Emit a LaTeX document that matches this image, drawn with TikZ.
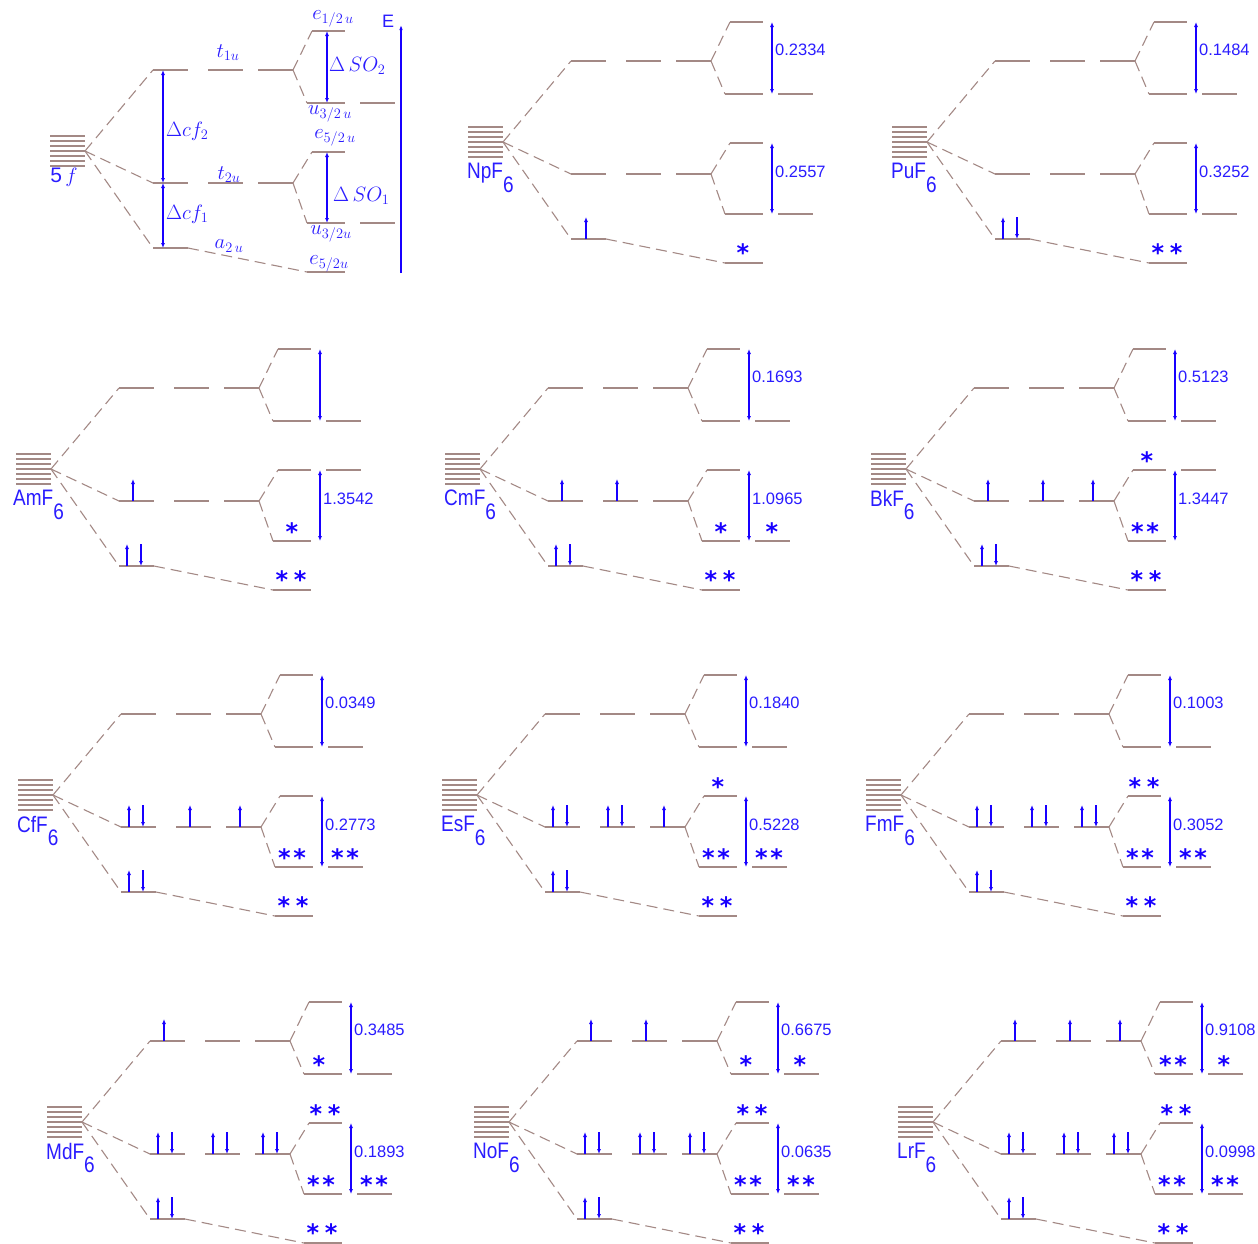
\documentclass[tikz,border=0pt]{standalone}
\usepackage{fontspec}
\setmainfont{Liberation Sans}
\newfontfamily\starfont{DejaVu Sans}
\usepackage{tikz}
\usetikzlibrary{arrows.meta,calc}
\definecolor{lvlbrown}{HTML}{A38985}
\definecolor{spinblue}{HTML}{1800FF}
\definecolor{labblue}{HTML}{2A1CFF}

\tikzset{
  lvl/.style={lvlbrown,line width=1.4pt},
  corr/.style={lvlbrown,line width=1.1pt,dash pattern=on 11pt off 6pt},
  gap/.style={spinblue,line width=1.3pt,{Latex[length=5pt,width=4pt]}-{Latex[length=5pt,width=4pt]}},
  spin/.style={spinblue,line width=1.2pt,-{Latex[length=5pt,width=4pt]}},
  val/.style={labblue,font=\fontsize{16.5}{18}\selectfont,anchor=west,inner sep=1pt},
  mol/.style={labblue,font=\fontsize{19}{20}\selectfont,anchor=north west,inner sep=0pt},
  occ/.style={spinblue,font=\starfont\bfseries\fontsize{24}{24}\selectfont,inner sep=0pt},
  sym/.style={labblue,font=\fontsize{21}{22}\selectfont,inner sep=0pt},
}

% one panel: 5f stack, t1u/t2u/a2u and their spin-orbit split levels
% #1 prefix, #2 row of the extra upper level, #3 row of the extra middle level
\newcommand{\levels}[3]{%
  \coordinate (#1-ap) at (0,0);
  \foreach \k in {-15,-10,...,15}
    \draw[lvl] (-35,\k) -- (0,\k);
  \foreach \r/\y in {u/-81,m/32}{
    \draw[lvl] (68,\y) coordinate (#1-\r1) -- (103,\y)
               (123,\y) -- (158,\y)
               (173,\y) -- (208,\y) coordinate (#1-\r3);
  }
  \draw[lvl] (68,97) coordinate (#1-l1) -- (103,97) coordinate (#1-l2);
  \draw[lvl] (227,-120) coordinate (#1-ut) -- (260,-120);
  \draw[lvl] (222,-48) coordinate (#1-ub) -- (260,-48);
  \draw[lvl] (227,1) coordinate (#1-mt) -- (260,1);
  \draw[lvl] (222,72) coordinate (#1-mb) -- (260,72);
  \draw[lvl] (222,121) coordinate (#1-lb) -- (260,121);
  \draw[lvl] (275,#2) -- (310,#2);
  \draw[lvl] (275,#3) -- (310,#3);
  \draw[corr] (#1-ap) -- (#1-u1);
  \draw[corr] (#1-ap) -- (#1-m1);
  \draw[corr] (#1-ap) -- (#1-l1);
  \draw[corr] (#1-u3) -- (#1-ut);
  \draw[corr] (#1-u3) -- (#1-ub);
  \draw[corr] (#1-m3) -- (#1-mt);
  \draw[corr] (#1-m3) -- (#1-mb);
  \draw[corr] (#1-l2) -- (#1-lb);
}
% splitting arrows with their values
\newcommand{\gaps}[3]{%
  \coordinate (#1-ga) at (269,-120); \coordinate (#1-gb) at (269,-48);
  \coordinate (#1-gc) at (269,1);    \coordinate (#1-gd) at (269,72);
  \draw[gap] (#1-ga) -- (#1-gb);
  \draw[gap] (#1-gc) -- (#1-gd);
  \node[val] (#1-v1) at (271,-92) {#2};
  \node[val] (#1-v2) at (271,30) {#3};
}
\newcommand{\su}[2]{\draw[spin] (#1,#2) -- (#1,{#2-22});}
\newcommand{\pair}[2]{\draw[spin] (#1,#2) -- (#1,{#2-22});
  \draw[spin] ({#1+14},{#2-22}) -- ({#1+14},#2);}
% asterisk lowered so that its box hugs the glyph
\newcommand{\astk}{\raisebox{-0.17em}[0.38em][0pt]{*}}
\newcommand{\sone}{\astk}
\newcommand{\stwo}{\astk\kern2.5pt\astk}
\newcommand{\stwow}{\astk\kern5.5pt\astk}
\newcommand{\molsix}{\raisebox{-0.6em}{6}}
\newcommand{\molname}[1]{\scalebox{1}[1.18]{#1\molsix}}

\begin{document}
\begin{tikzpicture}[x=1pt,y=-1pt]
\useasboundingbox (0,0) rectangle (1258,1243);

% 5f scheme
\begin{scope}[shift={(85,151)}]
  \levels{ff}{-48}{72}
  \coordinate (ff-sa) at (242,-120); \coordinate (ff-sb) at (242,-48);
  \coordinate (ff-sc) at (242,1);    \coordinate (ff-sd) at (242,72);
  \draw[gap] (ff-sa) -- (ff-sb);
  \draw[gap] (ff-sc) -- (ff-sd);
  \coordinate (ff-ca) at (78,-81); \coordinate (ff-cb) at (78,32);
  \coordinate (ff-cc) at (78,97);
  \draw[gap] (ff-ca) -- (ff-cb);
  \draw[gap] (ff-cb) -- (ff-cc);
  \coordinate (ff-e0) at (316,122); \coordinate (ff-e1) at (316,-126);
  \draw[spinblue,line width=1.2pt,-{Latex[length=5pt,width=3.5pt]}] (ff-e0) -- (ff-e1);
  \node[sym,font=\fontsize{18}{19}\selectfont] (ff-E) at (303,-130) {E};
  \node[sym] (ff-name) at (-21,26) {5\,$f$};
  \node[sym] (ff-t1) at (143,-98) {$t_{1u}$};
  \node[sym] (ff-t2) at (144,24) {$t_{2u}$};
  \node[sym] (ff-a2) at (144,95) {$a_{2\,u}$};
  \node[sym,anchor=west] (ff-dc2) at (81,-20) {$\Delta cf_2$};
  \node[sym,anchor=west] (ff-dc1) at (81,63) {$\Delta cf_1$};
  \node[sym,anchor=west] (ff-ds2) at (244,-85) {$\Delta\,SO_2$};
  \node[sym,anchor=west] (ff-ds1) at (248,45) {$\Delta\,SO_1$};
  \node[sym] (ff-e12) at (248,-132) {$e_{1/2\,u}$};
  \node[sym] (ff-u32a) at (245,-37) {$u_{3/2\,u}$};
  \node[sym] (ff-e52a) at (250,-13) {$e_{5/2\,u}$};
  \node[sym] (ff-u32b) at (246,83) {$u_{3/2u}$};
  \node[sym] (ff-e52b) at (244,113) {$e_{5/2u}$};
\end{scope}

% NpF6
\begin{scope}[shift={(503,142)}]
  \levels{np}{-48}{72}
  \gaps{np}{0.2334}{0.2557}
  \su{83}{97}
  \node[occ] (np-s1) at (240,111) {\sone};
  \node[mol] (np-name) at (-36,21) {\molname{NpF}};
\end{scope}

% PuF6
\begin{scope}[shift={(927,142)}]
  \levels{pu}{-48}{72}
  \gaps{pu}{0.1484}{0.3252}
  \pair{76}{97}
  \node[occ] (pu-s1) at (240,111) {\stwow};
  \node[mol] (pu-name) at (-36,21) {\molname{PuF}};
\end{scope}

% AmF6
\begin{scope}[shift={(51,469)}]
  \levels{am}{-48}{1}
  \gaps{am}{}{1.3542}
  \su{82}{32}
  \pair{76}{97}
  \node[occ] (am-s1) at (241,63) {\sone};
  \node[occ] (am-s2) at (240,111) {\stwow};
  \node[mol] (am-name) at (-38,21) {\molname{AmF}};
\end{scope}

% CmF6
\begin{scope}[shift={(480,469)}]
  \levels{cm}{-48}{72}
  \gaps{cm}{0.1693}{1.0965}
  \su{82}{32} \su{137}{32}
  \pair{76}{97}
  \node[occ] (cm-s1) at (241,63) {\sone};
  \node[occ] (cm-s2) at (292,63) {\sone};
  \node[occ] (cm-s3) at (240,111) {\stwow};
  \node[mol] (cm-name) at (-36,21) {\molname{CmF}};
\end{scope}

% BkF6
\begin{scope}[shift={(906,469)}]
  \levels{bk}{-48}{1}
  \gaps{bk}{0.5123}{1.3447}
  \su{82}{32} \su{137}{32} \su{187}{32}
  \pair{76}{97}
  \node[occ] (bk-s1) at (241,-8) {\sone};
  \node[occ] (bk-s2) at (239,63) {\stwo};
  \node[occ] (bk-s3) at (240,111) {\stwow};
  \node[mol] (bk-name) at (-36,21) {\molname{BkF}};
\end{scope}

% CfF6
\begin{scope}[shift={(53,795)}]
  \levels{cf}{-48}{72}
  \gaps{cf}{0.0349}{0.2773}
  \pair{76}{32} \su{137}{32} \su{187}{32}
  \pair{76}{97}
  \node[occ] (cf-s1) at (239,63) {\stwo};
  \node[occ] (cf-s2) at (292,63) {\stwo};
  \node[occ] (cf-s3) at (240,111) {\stwow};
  \node[mol] (cf-name) at (-36,21) {\molname{CfF}};
\end{scope}

% EsF6
\begin{scope}[shift={(477,795)}]
  \levels{es}{-48}{72}
  \gaps{es}{0.1840}{0.5228}
  \pair{76}{32} \pair{131}{32} \su{187}{32}
  \pair{76}{97}
  \node[occ] (es-s1) at (241,-8) {\sone};
  \node[occ] (es-s2) at (239,63) {\stwo};
  \node[occ] (es-s3) at (292,63) {\stwo};
  \node[occ] (es-s4) at (240,111) {\stwow};
  \node[mol] (es-name) at (-36,21) {\molname{EsF}};
\end{scope}

% FmF6
\begin{scope}[shift={(901,795)}]
  \levels{fm}{-48}{72}
  \gaps{fm}{0.1003}{0.3052}
  \pair{76}{32} \pair{131}{32} \pair{181}{32}
  \pair{76}{97}
  \node[occ] (fm-s1) at (243,-8) {\stwow};
  \node[occ] (fm-s2) at (239,63) {\stwo};
  \node[occ] (fm-s3) at (292,63) {\stwo};
  \node[occ] (fm-s4) at (240,111) {\stwow};
  \node[mol] (fm-name) at (-36,21) {\molname{FmF}};
\end{scope}

% MdF6
\begin{scope}[shift={(82,1122)}]
  \levels{md}{-48}{72}
  \gaps{md}{0.3485}{0.1893}
  \su{82}{-81}
  \pair{76}{32} \pair{131}{32} \pair{181}{32}
  \pair{76}{97}
  \node[occ] (md-s1) at (237,-57) {\sone};
  \node[occ] (md-s2) at (243,-8) {\stwow};
  \node[occ] (md-s3) at (239,63) {\stwo};
  \node[occ] (md-s4) at (292,63) {\stwo};
  \node[occ] (md-s5) at (240,111) {\stwow};
  \node[mol] (md-name) at (-36,21) {\molname{MdF}};
\end{scope}

% NoF6
\begin{scope}[shift={(509,1122)}]
  \levels{no}{-48}{72}
  \gaps{no}{0.6675}{0.0635}
  \su{82}{-81} \su{137}{-81}
  \pair{76}{32} \pair{131}{32} \pair{181}{32}
  \pair{76}{97}
  \node[occ] (no-s1) at (237,-57) {\sone};
  \node[occ] (no-s2) at (291,-57) {\sone};
  \node[occ] (no-s3) at (243,-8) {\stwow};
  \node[occ] (no-s4) at (239,63) {\stwo};
  \node[occ] (no-s5) at (292,63) {\stwo};
  \node[occ] (no-s6) at (240,111) {\stwow};
  \node[mol] (no-name) at (-36,21) {\molname{NoF}};
\end{scope}

% LrF6
\begin{scope}[shift={(933,1122)}]
  \levels{lr}{-48}{72}
  \gaps{lr}{0.9108}{0.0998}
  \su{82}{-81} \su{137}{-81} \su{187}{-81}
  \pair{76}{32} \pair{131}{32} \pair{181}{32}
  \pair{76}{97}
  \node[occ] (lr-s1) at (240,-57) {\stwo};
  \node[occ] (lr-s2) at (291,-57) {\sone};
  \node[occ] (lr-s3) at (243,-8) {\stwow};
  \node[occ] (lr-s4) at (239,63) {\stwo};
  \node[occ] (lr-s5) at (292,63) {\stwo};
  \node[occ] (lr-s6) at (240,111) {\stwow};
  \node[mol] (lr-name) at (-36,21) {\molname{LrF}};
\end{scope}

\end{tikzpicture}
\end{document}
